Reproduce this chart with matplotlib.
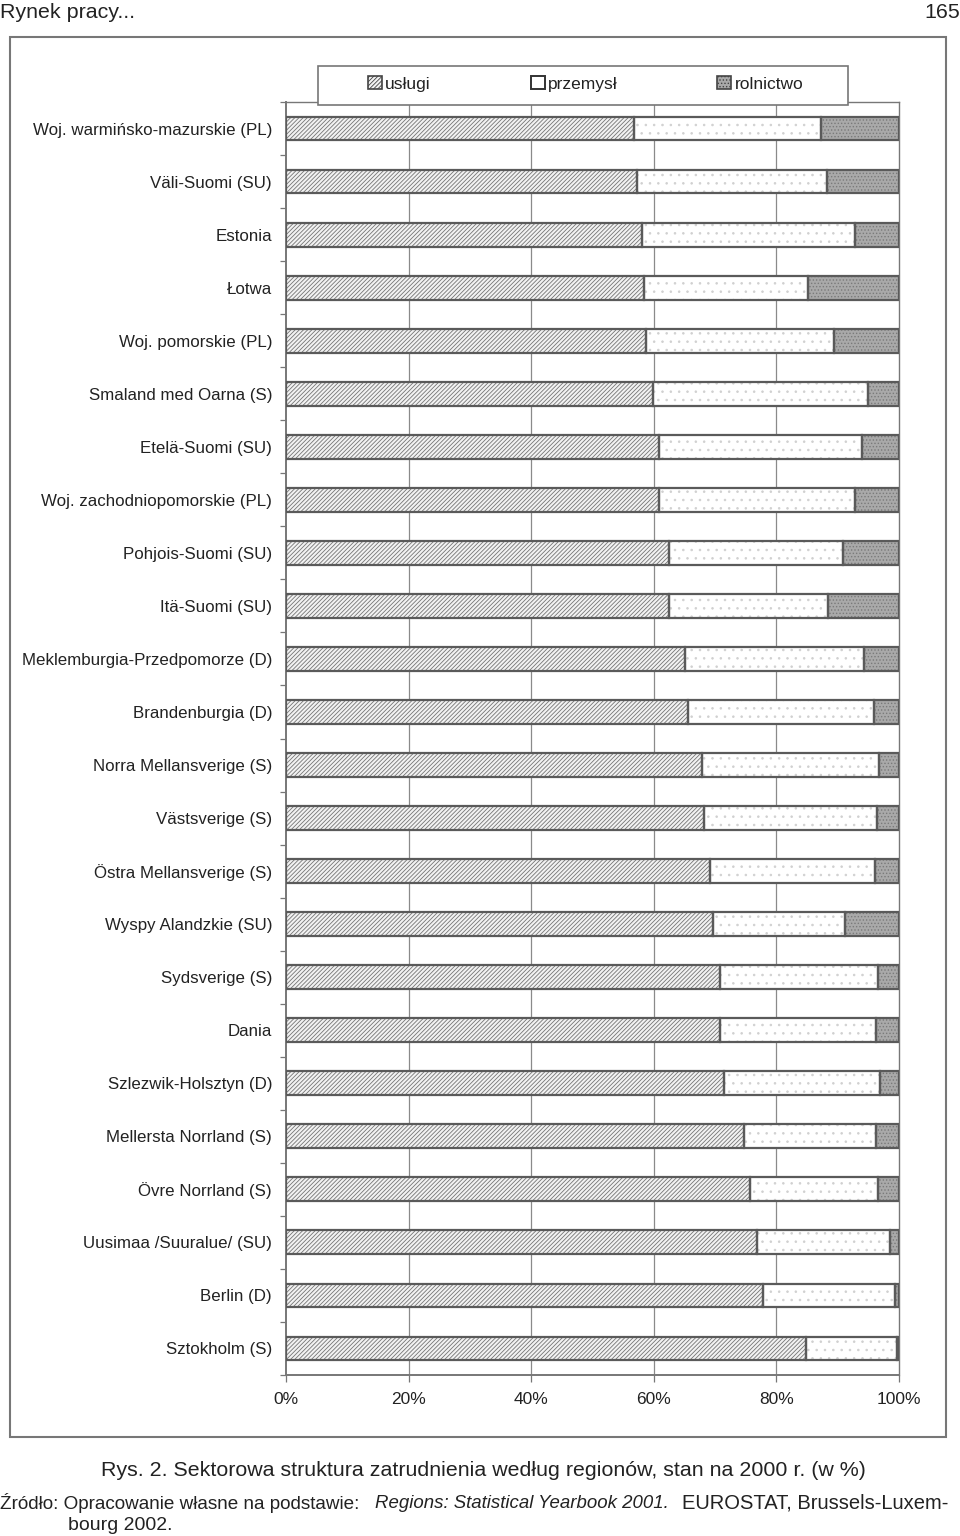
import matplotlib.pyplot as plt
import numpy as np
from matplotlib.patches import Rectangle, Patch

plt.rcParams['font.family'] = ['Liberation Sans', 'DejaVu Sans']
plt.rcParams['hatch.linewidth'] = 0.6

# Data (share of employment, %)
regions = [
    'Woj. warmińsko-mazurskie (PL)', 'Väli-Suomi (SU)', 'Estonia', 'Łotwa',
    'Woj. pomorskie (PL)', 'Smaland med Oarna (S)', 'Etelä-Suomi (SU)',
    'Woj. zachodniopomorskie (PL)', 'Pohjois-Suomi (SU)', 'Itä-Suomi (SU)',
    'Meklemburgia-Przedpomorze (D)', 'Brandenburgia (D)', 'Norra Mellansverige (S)',
    'Västsverige (S)', 'Östra Mellansverige (S)', 'Wyspy Alandzkie (SU)',
    'Sydsverige (S)', 'Dania', 'Szlezwik-Holsztyn (D)', 'Mellersta Norrland (S)',
    'Övre Norrland (S)', 'Uusimaa /Suuralue/ (SU)', 'Berlin (D)', 'Sztokholm (S)',
]
uslugi = [56.7, 57.3, 58.0, 58.4, 58.8, 59.8, 60.8, 60.8, 62.5, 62.5, 65.1, 65.5,
          67.9, 68.2, 69.1, 69.7, 70.8, 70.8, 71.5, 74.7, 75.7, 76.8, 77.8, 84.8]
przemysl = [30.6, 31.0, 34.9, 26.7, 30.6, 35.1, 33.1, 32.1, 28.3, 25.9, 29.2, 30.5,
            28.9, 28.2, 27.0, 21.5, 25.7, 25.4, 25.4, 21.5, 20.9, 21.8, 21.6, 14.9]
rolnictwo = [12.7, 11.7, 7.1, 14.9, 10.6, 5.1, 6.1, 7.1, 9.2, 11.6, 5.7, 4.0,
             3.2, 3.6, 3.9, 8.8, 3.5, 3.8, 3.1, 3.8, 3.4, 1.4, 0.6, 0.3]
series_names = ['usługi', 'przemysł', 'rolnictwo']
x_ticks = [0, 20, 40, 60, 80, 100]

fig = plt.figure(figsize=(9.6, 15.36), dpi=100)
ax = fig.add_axes([286 / 960, 1 - 1375 / 1536, 613 / 960, 1273 / 1536])

y = np.arange(len(regions))
h = 0.45
edge = '#5a5a5a'
text_c = '#222222'

styles = [
    dict(color='#f2f2f2', hatch='////////', edgecolor='#757575'),
    dict(color='#ffffff', hatch='..', edgecolor='#d0d0d0'),
    dict(color='#a9a9a9', hatch='.....', edgecolor='#7a7a7a'),
]

left = np.zeros(len(regions))
for vals, st in zip([uslugi, przemysl, rolnictwo], styles):
    vals = np.array(vals)
    ax.barh(y, vals, h, left=left, linewidth=0, zorder=2, **st)
    ax.barh(y, vals, h, left=left, fill=False, edgecolor=edge, linewidth=1.6, zorder=3)
    left += vals

ax.set_xlim(0, 100)
ax.set_ylim(len(regions) - 0.5, -0.5)

# vertical grid
for v in x_ticks[1:-1]:
    ax.axvline(v, color='#8a8a8a', lw=0.9, zorder=1)

ax.set_xticks(x_ticks)
ax.set_xticklabels([f'{v}%' for v in x_ticks], fontsize=12.5, color=text_c)
ax.tick_params(axis='x', length=5, width=0.9, color='#777777', pad=7)

ax.set_yticks(y)
ax.set_yticklabels(regions, fontsize=12.2, color=text_c)
ax.tick_params(axis='y', length=0, pad=10)
ax.set_yticks(np.arange(len(regions) + 1) - 0.5, minor=True)
ax.tick_params(axis='y', which='minor', length=4, width=0.9, color='#777777')

for s in ax.spines.values():
    s.set_color('#777777')
    s.set_linewidth(1.0)
ax.spines['left'].set_linewidth(1.4)
ax.spines['bottom'].set_linewidth(1.4)

# legend
handles = [Patch(facecolor=st['color'], hatch=st['hatch'], edgecolor='#444444', linewidth=1.2)
           for st in styles]
handles[1] = Patch(facecolor='white', edgecolor='#333333', linewidth=1.4)
leg = fig.legend(handles, series_names, ncol=3, loc='center left',
                 bbox_to_anchor=(368 / 960, 1 - 84 / 1536),
                 fontsize=12.5, handlelength=0.8, handleheight=0.8,
                 handletextpad=0.2, columnspacing=5.74, borderpad=0,
                 borderaxespad=0, frameon=False)
for t in leg.get_texts():
    t.set_color(text_c)
fig.add_artist(Rectangle((318 / 960, 1 - 105 / 1536), 530 / 960, 39 / 1536,
                         transform=fig.transFigure, facecolor='white',
                         edgecolor='#777777', linewidth=1.2, zorder=4))
leg.set_zorder(5)

# outer frame
fig.add_artist(Rectangle((10 / 960, 1 - 1437 / 1536), 936 / 960, 1400 / 1536,
                         transform=fig.transFigure, fill=False,
                         edgecolor='#777777', linewidth=1.5))

# page header
fig.text(0.0, 1 - 12 / 1536, 'Rynek pracy...', fontsize=15.4, color=text_c, va='center', ha='left')
fig.text(1.0, 1 - 12 / 1536, '165', fontsize=15.4, color=text_c, va='center', ha='right')

# caption
fig.text(483 / 960, 1 - 1471 / 1536,
         'Rys. 2. Sektorowa struktura zatrudnienia według regionów, stan na 2000 r. (w %)',
         fontsize=15.4, color=text_c, ha='center', va='center')
yb = 1 - 1503 / 1536
fig.text(0.0, yb, 'Źródło: Opracowanie własne na podstawie:', fontsize=13.6,
         color=text_c, ha='left', va='center')
fig.text(375 / 960, yb, 'Regions: Statistical Yearbook 2001.', fontsize=13.4,
         color=text_c, ha='left', va='center', style='italic')
fig.text(948 / 960, yb, 'EUROSTAT, Brussels-Luxem-', fontsize=14.5,
         color=text_c, ha='right', va='center')
fig.text(68 / 960, 1 - 1525 / 1536, 'bourg 2002.', fontsize=14,
         color=text_c, ha='left', va='center')

fig.savefig('out.png', dpi=100, facecolor='white')
